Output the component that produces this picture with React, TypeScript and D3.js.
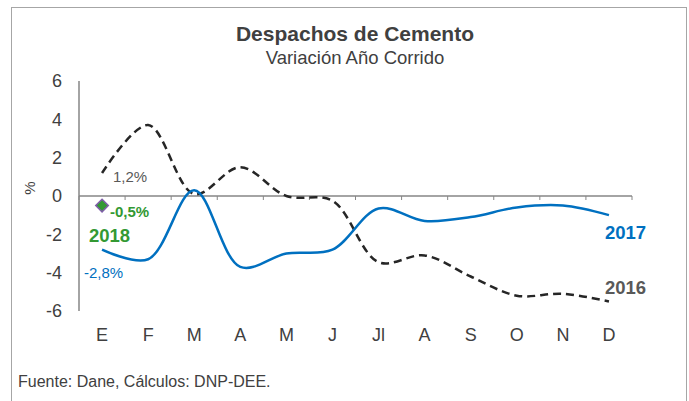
import React from "react";
import * as d3 from "d3";

const months = ["E", "F", "M", "A", "M", "J", "Jl", "A", "S", "O", "N", "D"];
const serie2016 = [1.2, 3.7, 0.1, 1.5, 0.0, -0.25, -3.45, -3.1, -4.2, -5.2, -5.1, -5.5];
const serie2017 = [-2.8, -3.3, 0.3, -3.7, -3.0, -2.8, -0.65, -1.3, -1.1, -0.6, -0.5, -1.0];
const serie2018 = [-0.5];
const yTicks = [6, 4, 2, 0, -2, -4, -6];

const FONT = "'Liberation Sans', Arial, sans-serif";

export default function App() {
  const W = 689, H = 401;
  const x0 = 79, x1 = 632;
  const x = d3.scaleBand<number>().domain(d3.range(months.length)).range([x0, x1]);
  const cx = (i: number) => (x(i) as number) + x.bandwidth() / 2;
  const y = d3.scaleLinear().domain([-6, 6]).range([311, 81]);

  const line = d3
    .line<number>()
    .x((_, i) => cx(i))
    .y((d) => y(d))
    .curve(d3.curveCatmullRom.alpha(0.5));

  return (
    <svg
      width={W}
      height={H}
      style={{ position: "absolute", left: 0, top: 0, background: "#fff" }}
      fontFamily={FONT}
    >
      <rect x={11.5} y={7.5} width={675} height={400} fill="#fff" stroke="#a6a6a6" strokeWidth={1} />
      <text x={355} y={41} textAnchor="middle" fontSize={21} fontWeight="bold" fill="#404040">
        Despachos de Cemento
      </text>
      <text x={355} y={64} textAnchor="middle" fontSize={18.5} fill="#404040">
        Variación Año Corrido
      </text>

      {/* y axis */}
      <line x1={x0} x2={x0} y1={y(6)} y2={y(-6)} stroke="#868686" strokeWidth={1.5} />
      {yTicks.map((t) => (
        <text key={t} x={62} y={y(t)} dy="0.35em" textAnchor="end" fontSize={18} fill="#404040">
          {t}
        </text>
      ))}
      <text
        transform={`translate(35,188) rotate(-90)`}
        textAnchor="middle"
        fontSize={15}
        fill="#404040"
      >
        %
      </text>

      {/* x axis */}
      <line x1={x0} x2={x1} y1={y(0)} y2={y(0)} stroke="#868686" strokeWidth={1.5} />
      {d3.range(months.length + 1).map((i) => {
        const xx = i < months.length ? (x(i) as number) : x1;
        return <line key={i} x1={xx} x2={xx} y1={y(0)} y2={y(0) + 4} stroke="#868686" strokeWidth={1} />;
      })}
      {months.map((m, i) => (
        <text key={i} x={cx(i)} y={341} textAnchor="middle" fontSize={18} fill="#404040">
          {m}
        </text>
      ))}

      {/* series */}
      <path d={line(serie2016) || ""} fill="none" stroke="#262626" strokeWidth={2.5} strokeDasharray="8,5" />
      <path d={line(serie2017) || ""} fill="none" stroke="#0070c0" strokeWidth={2.5} />
      {serie2018.map((v, i) => (
        <path
          key={i}
          d={d3.symbol(d3.symbolDiamond2, 100)() || ""}
          transform={`translate(${cx(i)},${y(v)})`}
          fill="#339933"
          stroke="#7f5fa8"
          strokeWidth={1.5}
        />
      ))}

      {/* labels */}
      <text x={113} y={182} fontSize={15} fill="#595959">1,2%</text>
      <text x={110} y={217} fontSize={15} fontWeight="bold" fill="#339933">-0,5%</text>
      <text x={89} y={242} fontSize={18.5} fontWeight="bold" fill="#339933">2018</text>
      <text x={84} y={278} fontSize={15} fill="#0070c0">-2,8%</text>
      <text x={605} y={239} fontSize={18.5} fontWeight="bold" fill="#0070c0">2017</text>
      <text x={605} y={294} fontSize={18.5} fontWeight="bold" fill="#595959">2016</text>

      <text x={18} y={387} fontSize={16} fill="#404040">Fuente: Dane, Cálculos: DNP-DEE.</text>
    </svg>
  );
}
